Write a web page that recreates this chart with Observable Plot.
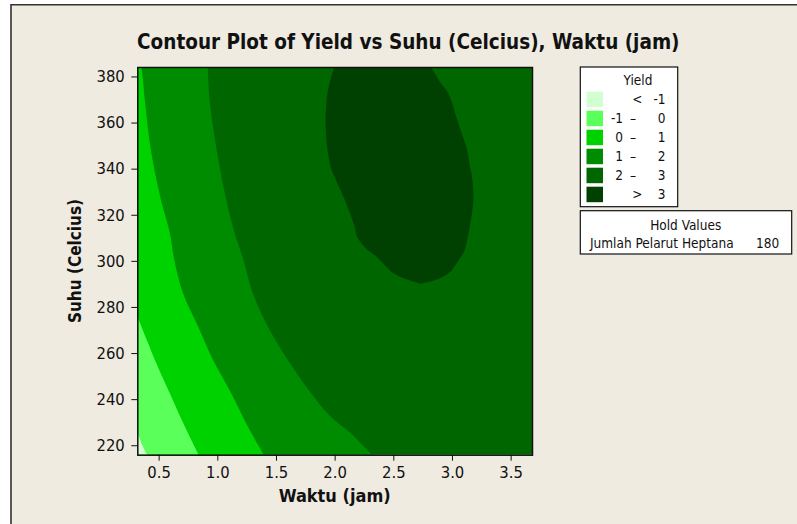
<!DOCTYPE html>
<html>
<head>
<meta charset="utf-8">
<script src="https://cdn.jsdelivr.net/npm/d3@7"></script>
<script src="https://cdn.jsdelivr.net/npm/@observablehq/plot@0.6"></script>
<style>
  html, body { margin: 0; padding: 0; background: #ffffff; }
  #chart svg text { font-family: "DejaVu Sans Condensed", "DejaVu Sans", sans-serif; }
</style>
</head>
<body>
<div id="chart"></div>
<script>
// ---------------- data ----------------
const titleText = "Contour Plot of Yield vs Suhu (Celcius), Waktu (jam)";
const xLabel = "Waktu (jam)";
const yLabel = "Suhu (Celcius)";
const xDomain = [0.318, 3.682];
const yDomain = [215.9, 384.1];
const xTicks = [0.5, 1.0, 1.5, 2.0, 2.5, 3.0, 3.5];
const yTicks = [220, 240, 260, 280, 300, 320, 340, 360, 380];

const legendTitle = "Yield";
const levelLo = ["<", "-1", "0", "1", "2", ">"];
const levelHi = ["-1", "0", "1", "2", "3", "3"];
const levelColors = ["#d2ffd2", "#5aff5a", "#00d200", "#008c00", "#006600", "#004000"];

const holdTitle = "Hold Values";
const holdName = "Jumlah Pelarut Heptana";
const holdValue = 180;

// contour Yield = 2 (boundary between 1–2 and 2–3)
const c2Suhu  = [384.1, 370.3, 355.8, 341.4, 326.9, 312.5, 300.2, 286.2, 271.7, 257.2, 242.8, 232.6, 225.4, 215.9];
const c2Waktu = [0.919, 0.933, 0.970, 1.018, 1.074, 1.145, 1.224, 1.301, 1.428, 1.598, 1.796, 1.963, 2.133, 2.317];
// contour Yield = 1
const c1Suhu  = [384.1, 380.0, 370.3, 348.6, 326.9, 312.5, 300.2, 286.2, 271.7, 257.2, 242.8, 228.3, 215.9];
const c1Waktu = [0.352, 0.364, 0.381, 0.432, 0.517, 0.593, 0.634, 0.706, 0.834, 0.961, 1.116, 1.258, 1.394];
// contour Yield = 0
const c0Suhu  = [276.0, 264.5, 257.2, 242.8, 228.3, 215.9];
const c0Waktu = [0.318, 0.409, 0.466, 0.593, 0.721, 0.840];
// contour Yield = -1
const cm1Suhu  = [225.4, 220.3, 215.9];
const cm1Waktu = [0.318, 0.358, 0.400];
// contour Yield = 3 (closed region, left and right edges)
const c3Suhu  = [384.1, 377.5, 372.5, 360.2, 348.6, 341.4, 337.0, 326.9, 315.4, 310.3, 305.3, 302.3, 298.0, 295.1, 292.2, 290.1];
const c3Left  = [1.997, 1.959, 1.938, 1.923, 1.938, 1.963, 1.994, 2.082, 2.167, 2.192, 2.269, 2.345, 2.430, 2.489, 2.600, 2.730];
const c3Right = [2.821, 2.900, 2.971, 3.050, 3.126, 3.152, 3.169, 3.183, 3.154, 3.135, 3.112, 3.084, 3.027, 2.982, 2.886, 2.740];

// ---------------- build tables ----------------
const edge = (ys, xs) => ys.map((s, i) => ({s, w: xs[i]}));
const c2 = edge(c2Suhu, c2Waktu);
const c1 = edge(c1Suhu, c1Waktu);
const c0 = edge(c0Suhu, c0Waktu);
const cm1 = edge(cm1Suhu, cm1Waktu);
const c3 = c3Suhu.map((s, i) => ({s, l: c3Left[i], r: c3Right[i]}));

const FONT = '"DejaVu Sans Condensed", "DejaVu Sans", sans-serif';
const W = 797, H = 524;

const plot = Plot.plot({
  width: W, height: H,
  marginLeft: 137.3, marginTop: 67, marginRight: 265, marginBottom: 69.3,
  style: {background: "transparent", fontFamily: FONT, fontSize: "16.5px", color: "#111"},
  x: {domain: xDomain, label: null},
  y: {domain: yDomain, label: null},
  marks: [
    Plot.rect([0], {x1: xDomain[0], x2: xDomain[1], y1: yDomain[0], y2: yDomain[1], fill: levelColors[4]}),
    Plot.areaX(c2, {y: "s", x1: xDomain[0], x2: "w", fill: levelColors[3], curve: "catmull-rom", clip: true}),
    Plot.areaX(c1, {y: "s", x1: xDomain[0], x2: "w", fill: levelColors[2], curve: "catmull-rom", clip: true}),
    Plot.areaX(c0, {y: "s", x1: xDomain[0], x2: "w", fill: levelColors[1], curve: "catmull-rom", clip: true}),
    Plot.areaX(cm1, {y: "s", x1: xDomain[0], x2: "w", fill: levelColors[0], curve: "linear", clip: true}),
    Plot.areaX(c3, {y: "s", x1: "l", x2: "r", fill: levelColors[5], curve: "catmull-rom", clip: true}),
    Plot.frame({stroke: "#111", strokeWidth: 1.5}),
    Plot.axisX({ticks: xTicks, tickFormat: d3.format(".1f"), tickSize: 6, tickPadding: 5, label: null}),
    Plot.axisY({ticks: yTicks, tickFormat: d3.format("d"), tickSize: 6, tickPadding: 7, label: null})
  ]
});

const svg = d3.select(plot);
// beige page background with top/left border
const bg = svg.insert("g", ":first-child");
bg.append("rect").attr("x", 0).attr("y", 0).attr("width", W).attr("height", H).attr("fill", "#ffffff");
bg.append("rect").attr("x", 11).attr("y", 4.7).attr("width", W - 11).attr("height", H - 4.7).attr("fill", "#efebe1");
bg.append("path").attr("d", `M11,${H}V4.7H${W}`).attr("fill", "none").attr("stroke", "#333").attr("stroke-width", 1.6);

const txt = svg.append("g").attr("font-family", FONT).attr("fill", "#111");
txt.append("text").attr("x", 408.3).attr("y", 49.3).attr("text-anchor", "middle")
  .attr("font-size", 20.5).attr("font-weight", "bold").text(titleText);
txt.append("text").attr("x", 334.7).attr("y", 501.5).attr("text-anchor", "middle")
  .attr("font-size", 18).attr("font-weight", "bold").text(xLabel);
txt.append("text").attr("transform", "translate(80.5,261) rotate(-90)").attr("text-anchor", "middle")
  .attr("font-size", 17).attr("font-weight", "bold").text(yLabel);

// legend
const lg = svg.append("g").attr("font-family", FONT).attr("font-size", 13.5).attr("fill", "#111");
lg.append("rect").attr("x", 580.3).attr("y", 67).attr("width", 97.4).attr("height", 139.7)
  .attr("fill", "#fff").attr("stroke", "#111").attr("stroke-width", 1.2);
lg.append("text").attr("x", 638).attr("y", 84.5).attr("text-anchor", "middle").text(legendTitle);
levelColors.forEach((c, i) => {
  const cy = 99.2 + i * 19;
  lg.append("rect").attr("x", 586.5).attr("y", cy - 7.5).attr("width", 16.5).attr("height", 15.5).attr("fill", c);
  const lo = levelLo[i];
  if (lo === "<" || lo === ">") {
    lg.append("text").attr("x", 637.3).attr("y", cy + 4.7).attr("text-anchor", "middle").text(lo);
  } else {
    lg.append("text").attr("x", 623).attr("y", cy + 4.7).attr("text-anchor", "end").text(lo);
    lg.append("text").attr("x", 633).attr("y", cy + 4.7).attr("text-anchor", "middle").text("\u2013");
  }
  lg.append("text").attr("x", 665.5).attr("y", cy + 4.7).attr("text-anchor", "end").text(levelHi[i]);
});

// hold values box
const hb = svg.append("g").attr("font-family", FONT).attr("font-size", 13.5).attr("fill", "#111");
hb.append("rect").attr("x", 580.3).attr("y", 210.7).attr("width", 211.4).attr("height", 43.3)
  .attr("fill", "#fff").attr("stroke", "#111").attr("stroke-width", 1.2);
hb.append("text").attr("x", 685.7).attr("y", 229.5).attr("text-anchor", "middle").text(holdTitle);
hb.append("text").attr("x", 590).attr("y", 248.3).attr("text-anchor", "start").text(holdName);
hb.append("text").attr("x", 779.3).attr("y", 248.3).attr("text-anchor", "end").text(String(holdValue));

document.getElementById("chart").appendChild(plot);
</script>
</body>
</html>
